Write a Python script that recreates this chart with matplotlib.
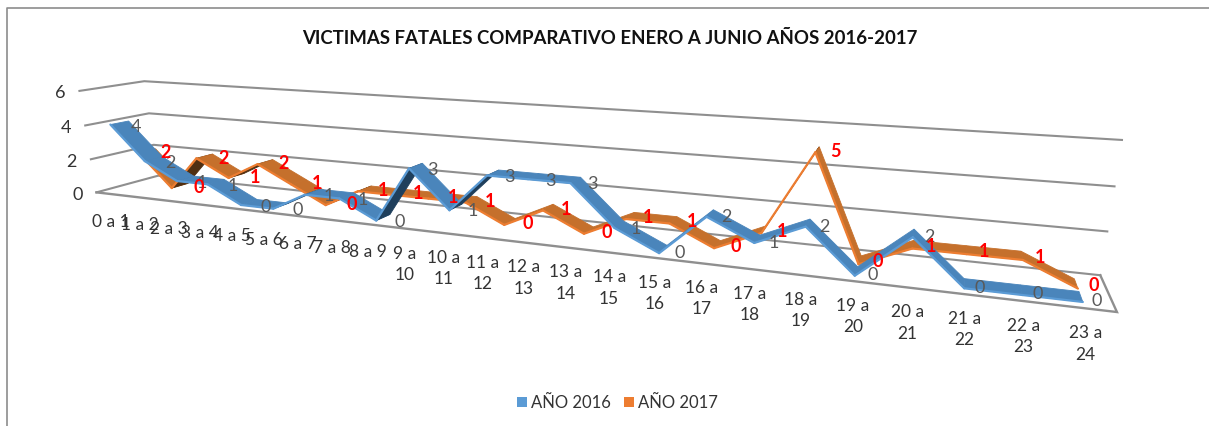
import numpy as np
import matplotlib
matplotlib.use("Agg")
import matplotlib.pyplot as plt
from matplotlib.patches import Polygon, Rectangle

W, H = 1209, 427
plt.rcParams['font.family'] = ['Lato', 'DejaVu Sans']

categories = ["0 a 1", "1 a 2", "2 a 3", "3 a 4", "4 a 5", "5 a 6", "6 a 7", "7 a 8", "8 a 9",
              "9 a\n10", "10 a\n11", "11 a\n12", "12 a\n13", "13 a\n14", "14 a\n15", "15 a\n16",
              "16 a\n17", "17 a\n18", "18 a\n19", "19 a\n20", "20 a\n21", "21 a\n22", "22 a\n23", "23 a\n24"]
values_2016 = [4, 2, 1, 1, 0, 0, 1, 1, 0, 3, 1, 3, 3, 3, 1, 0, 2, 1, 2, 0, 2, 0, 0, 0]
values_2017 = [2, 0, 2, 1, 2, 1, 0, 1, 1, 1, 1, 0, 1, 0, 1, 1, 0, 1, 5, 0, 1, 1, 1, 0]
z_ticks = [0, 2, 4, 6]
title = "VICTIMAS FATALES COMPARATIVO ENERO A JUNIO AÑOS 2016-2017"

# Calibration of the 3D view: (category pos, depth, value) -> picture pixel
calib_3d = np.array([(0, 0, 0), (24, 0, 0), (0, 1, 0), (24, 1, 0),
                     (0, 0, 2), (0, 0, 4), (0, 0, 6),
                     (0, 1, 2), (0, 1, 4), (0, 1, 6),
                     (24, 1, 2), (24, 1, 4), (24, 1, 6)], float)
calib_px = np.array([(97, 193), (1117, 313), (158, 177), (1100, 276),
                     (91, 160), (85, 127), (79, 92),
                     (153, 146), (149, 114), (145, 82),
                     (1108, 233), (1114, 187), (1122, 141)], float)
A, b = [], []
for (X, Y, Z), (u, v) in zip(calib_3d, calib_px):
    A.append([X, Y, Z, 1, 0, 0, 0, 0, -u * X, -u * Y, -u * Z])
    A.append([0, 0, 0, 0, X, Y, Z, 1, -v * X, -v * Y, -v * Z])
    b += [u, v]
P = np.append(np.linalg.lstsq(np.array(A), np.array(b), rcond=None)[0], 1).reshape(3, 4)


def proj(x, d, z):
    q = P @ np.array([x, d, z, 1.0])
    return q[:2] / q[2]


fig = plt.figure(figsize=(W / 100, H / 100), dpi=100)
ax = fig.add_axes([0, 0, 1, 1])
ax.set_xlim(0, W)
ax.set_ylim(H, 0)
ax.axis("off")

# chart frame
ax.plot([6.5, 6.5, W], [H, 8.5, 8.5], color="#8c8c8c", lw=1.2, zorder=1)

GRID = "#8f8f8f"
for z in z_ticks:
    pts = [proj(0, 0, z), proj(0, 1, z), proj(24, 1, z)]
    ax.plot(*zip(*pts), color=GRID, lw=1.5, zorder=2, solid_joinstyle="miter")
    p = proj(0, 0, z)
    ax.text(p[0] - 14, p[1] + 1.5, str(z), ha="right", va="center", fontsize=13, color="#333333")
floor = [proj(0, 0, 0), proj(24, 0, 0), proj(24, 1, 0)]
ax.plot(*zip(*floor), color=GRID, lw=1.7, zorder=2, solid_joinstyle="miter")


def ribbon(vals, d0, d1, top, dark, edge, zo):
    xs = np.arange(len(vals)) + 0.5
    for i in range(len(vals) - 1):
        a0, a1 = proj(xs[i], d0, vals[i]), proj(xs[i + 1], d0, vals[i + 1])
        b0, b1 = proj(xs[i], d1, vals[i]), proj(xs[i + 1], d1, vals[i + 1])
        seg, dep = a1 - a0, b0 - a0
        under = seg[0] * dep[1] - seg[1] * dep[0] > 0
        c = dark if under else top
        ax.add_patch(Polygon([a0, a1, b1, b0], closed=True, fc=c, ec=c, lw=0.6, zorder=zo))
        ax.plot([a0[0], a1[0]], [a0[1], a1[1]], color=edge, lw=1.6, zorder=zo + 0.1,
                solid_capstyle="round")


ribbon(values_2017, 0.52, 0.80, "#c5702c", "#4f2f12", "#ed7d31", 3)
ribbon(values_2016, 0.16, 0.44, "#4a85bb", "#1f3f5c", "#5b9bd5", 4)


def series_labels(vals, d, color, weight, dx, dy, zo):
    for i, v in enumerate(vals):
        p = proj(i + 0.5, d, v)
        ax.text(p[0] + dx, p[1] + dy, str(v), color=color, fontsize=13, fontweight=weight,
                ha="center", va="center", zorder=zo)


series_labels(values_2016, 0.31, "#595959", "normal", 16, 3.5, 5)
series_labels(values_2017, 0.67, "#ff0000", "bold", 18, 1, 6)

for i, lab in enumerate(categories):
    p = proj(i + 0.5, 0, 0)
    ax.text(p[0], p[1] + (16 if "\n" in lab else 19), lab, ha="center", va="top", fontsize=12.5,
            color="#333333", linespacing=1.4, zorder=5)

ax.text(610, 38.5, title, ha="center", va="center", fontsize=13.4, fontweight="bold", color="#111111")

ax.add_patch(Rectangle((517, 398), 9.5, 9.5, fc="#5b9bd5", ec="none"))
ax.text(531, 403, "AÑO 2016", ha="left", va="center", fontsize=12, color="#333333")
ax.add_patch(Rectangle((624, 398), 9.5, 9.5, fc="#ed7d31", ec="none"))
ax.text(638, 403, "AÑO 2017", ha="left", va="center", fontsize=12, color="#333333")

fig.savefig("out.png", dpi=100)
